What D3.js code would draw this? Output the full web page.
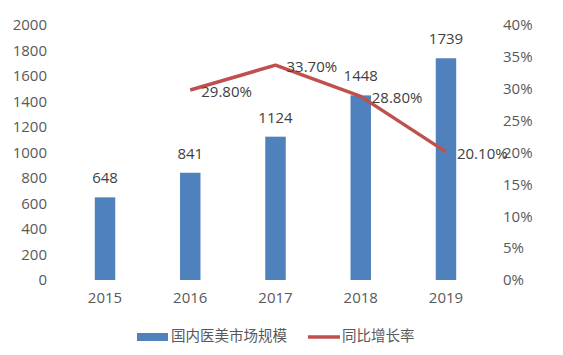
<!DOCTYPE html>
<html><head><meta charset="utf-8">
<script src="https://cdn.jsdelivr.net/npm/d3@7"></script>
<style>body{margin:0;background:#fff}svg{display:block}</style>
</head><body>
<svg id="c" width="563" height="355"></svg>
<script>
const years = ["2015","2016","2017","2018","2019"];
const marketSize = [648, 841, 1124, 1448, 1739];
const growthYears = ["2016","2017","2018","2019"];
const growthRate = [29.8, 33.7, 28.8, 20.1];
const leftTicks = [0,200,400,600,800,1000,1200,1400,1600,1800,2000];
const rightTicks = [0,5,10,15,20,25,30,35,40];
const seriesNames = ["国内医美市场规模","同比增长率"];

const svg = d3.select("#c");
const font = "'Open Sans','Noto Sans CJK SC',sans-serif";
const txt = "#595959";
const fs = "15px";
const x = d3.scaleBand().domain(years).range([62.4,488.6]).paddingInner(0.76).paddingOuter(0.38);
const yL = d3.scaleLinear().domain([0,2000]).range([280,25]);
const yR = d3.scaleLinear().domain([0,40]).range([280,25]);
const cx = d => x(d) + x.bandwidth()/2;

const axL = svg.append("g").attr("transform","translate(47,0)")
  .call(d3.axisLeft(yL).tickValues(leftTicks).tickSize(0).tickPadding(0).tickFormat(d3.format("d")));
const axR = svg.append("g").attr("transform","translate(503,0)")
  .call(d3.axisRight(yR).tickValues(rightTicks).tickSize(0).tickPadding(0).tickFormat(d=>d+"%"));
const axX = svg.append("g").attr("transform","translate(0,290)")
  .call(d3.axisBottom(x).tickSize(0).tickPadding(2));
[axL,axR,axX].forEach(a=>{a.select(".domain").remove();
  a.selectAll("text").attr("fill",txt).style("font-family",font).style("font-size",fs);});

svg.append("g").selectAll("rect").data(marketSize).join("rect")
  .attr("x",(d,i)=>x(years[i])).attr("width",x.bandwidth())
  .attr("y",d=>yL(d)).attr("height",d=>yL(0)-yL(d)).attr("fill","#4f81bd");

svg.append("g").selectAll("text").data(marketSize).join("text")
  .attr("x",(d,i)=>cx(years[i])).attr("y",d=>yL(d)-14)
  .attr("text-anchor","middle").attr("fill","#404040")
  .style("font-family",font).style("font-size",fs).text(d=>d);

const line = d3.line().x((d,i)=>cx(growthYears[i])).y(d=>yR(d));
svg.append("path").datum(growthRate).attr("d",line)
  .attr("fill","none").attr("stroke","#c0504d").attr("stroke-width",3.5).attr("stroke-linejoin","round");

svg.append("g").selectAll("text").data(growthRate).join("text")
  .attr("x",(d,i)=>cx(growthYears[i])+11).attr("y",d=>yR(d)+3)
  .attr("dominant-baseline","middle").attr("fill","#404040")
  .style("font-family",font).style("font-size",fs).text(d=>d.toFixed(2)+"%");

const lg = svg.append("g");
lg.append("rect").attr("x",137).attr("y",333).attr("width",31).attr("height",8).attr("fill","#4f81bd");
lg.append("text").attr("x",171).attr("y",337).attr("dominant-baseline","middle").attr("fill",txt)
  .style("font-family",font).style("font-size","14.5px").text(seriesNames[0]);
lg.append("line").attr("x1",308).attr("x2",340).attr("y1",337).attr("y2",337)
  .attr("stroke","#c0504d").attr("stroke-width",3.5);
lg.append("text").attr("x",342).attr("y",337).attr("dominant-baseline","middle").attr("fill",txt)
  .style("font-family",font).style("font-size","14.5px").text(seriesNames[1]);
</script>
</body></html>
